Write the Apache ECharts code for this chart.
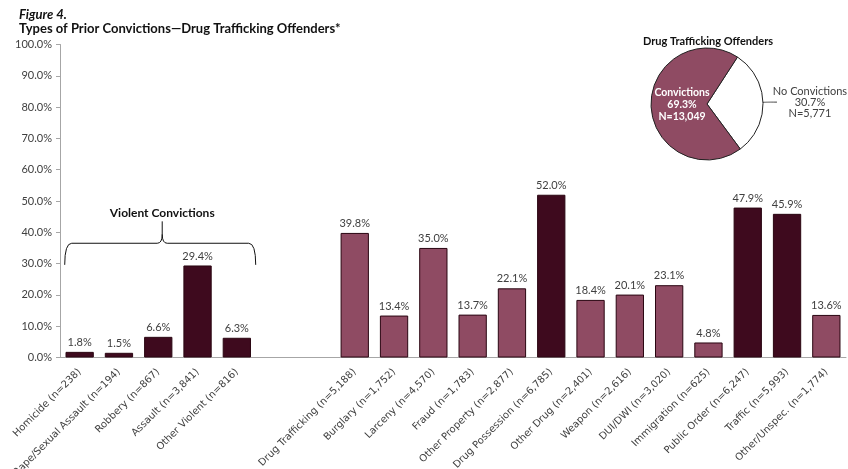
<!DOCTYPE html>
<html><head><meta charset="utf-8">
<script src="https://cdn.jsdelivr.net/npm/echarts@6/dist/echarts.min.js"></script>
<style>html,body{margin:0;padding:0;background:#fff}#c{width:848px;height:469px}</style>
</head><body><div id="c"></div>
<script>
const categories = ['Homicide (n=238)','Rape/Sexual Assault (n=194)','Robbery (n=867)','Assault (n=3,841)','Other Violent (n=816)','','',
 'Drug Trafficking (n=5,188)','Burglary (n=1,752)','Larceny (n=4,570)','Fraud (n=1,783)','Other Property (n=2,877)','Drug Possession (n=6,785)',
 'Other Drug (n=2,401)','Weapon (n=2,616)','DUI/DWI (n=3,020)','Immigration (n=625)','Public Order (n=6,247)','Traffic (n=5,993)','Other/Unspec. (n=1,774)'];
const values = [1.8,1.5,6.6,29.4,6.3,null,null,39.8,13.4,35.0,13.7,22.1,52.0,18.4,20.1,23.1,4.8,47.9,45.9,13.6];
const darkFlags = [1,1,1,1,1,0,0,0,0,0,0,0,1,0,0,0,0,1,1,0];
const yTicks = [0,10,20,30,40,50,60,70,80,90,100];
const pieNames = ['No Convictions','Convictions'];
const pieValues = [30.7,69.3];
const pieN = ['5,771','13,049'];

const DARK = '#3e0a1e', LIGHT = '#8f4b63';
const FONT = 'Lato';
const AXFONT = 'DejaVu Sans';
const chart = echarts.init(document.getElementById('c'));
const option = {
  animation:false,
  textStyle:{fontFamily:FONT},
  title:[
    {text:'Figure 4.', left:14, top:3, textStyle:{fontSize:13,fontWeight:'bold',fontStyle:'italic',color:'#111',fontFamily:FONT}},
    {text:'Types of Prior Convictions\u2014Drug Trafficking Offenders*', left:14, top:17, textStyle:{fontSize:13,fontWeight:'bold',color:'#111',fontFamily:FONT}},
    {text:'Drug Trafficking Offenders', left:703, top:31, textAlign:'center', textStyle:{fontSize:11,fontWeight:'bold',color:'#111',fontFamily:FONT}}
  ],
  grid:{left:60,right:2,top:44.5,bottom:111.5,containLabel:false,outerBoundsMode:'none'},
  xAxis:{type:'category',data:categories,
    axisLine:{lineStyle:{color:'#a6a6a6'}},axisTick:{show:false},
    axisLabel:{interval:0,rotate:45,fontSize:10,color:'#404040',margin:13,fontFamily:AXFONT}},
  yAxis:{type:'value',min:yTicks[0],max:yTicks[yTicks.length-1],interval:10,
    axisLine:{show:true,lineStyle:{color:'#a6a6a6'}},
    axisTick:{show:true,length:4,lineStyle:{color:'#a6a6a6'}},
    splitLine:{show:false},
    axisLabel:{fontSize:11,color:'#404040',margin:8,formatter:v=>v.toFixed(1)+'%',fontFamily:FONT}},
  series:[
    {type:'bar',barCategoryGap:'28%',
     data:values.map((v,i)=>({value:v,itemStyle:{color:darkFlags[i]?DARK:LIGHT}})),
     itemStyle:{borderColor:'#2a0612',borderWidth:1},
     label:{show:true,position:'top',distance:4,fontSize:11,color:'#404040',fontFamily:FONT,
       formatter:p=>p.value==null?'':p.value.toFixed(1)+'%'}},
    {type:'pie',center:[707,104],radius:56,startAngle:57,clockwise:true,
     emphasis:{disabled:true},
     data:pieNames.map((n,i)=>({name:n,value:pieValues[i],
       itemStyle:{color:i===0?'#ffffff':LIGHT,borderColor:'#222',borderWidth:1},
       label:i===0?{position:'outside',color:'#404040',fontSize:10,lineHeight:11,overflow:'none',
         formatter:p=>'{a|'+p.name+'}\n{a|'+p.value.toFixed(1)+'%}\n{a|N='+pieN[p.dataIndex]+'}',
         rich:{a:{width:86,align:'center',fontSize:11,lineHeight:11,color:'#404040',fontFamily:FONT}}}
         :{position:'inside',color:'#fff',fontWeight:'bold',fontSize:10,lineHeight:12,offset:[6,0],overflow:'none',
         formatter:p=>'{b|'+p.name+'}\n{b|'+p.value.toFixed(1)+'%}\n{b|N='+pieN[p.dataIndex]+'}',
         rich:{b:{width:70,align:'center',fontSize:10.5,lineHeight:12,fontWeight:'bold',color:'#fff',fontFamily:FONT}}},
       labelLine:{show:i===0,length:6,length2:8,smooth:true,lineStyle:{color:'#404040'}}
     }))}
  ]
};
chart.setOption(option);

// brace annotation over the violent categories
function px(ci,v){return chart.convertToPixel({xAxisIndex:0,yAxisIndex:0},[ci,v]);}
const band = px(1,0)[0]-px(0,0)[0];
const xl = px(0,0)[0]-band*0.38, xr = px(4,0)[0]+band*0.48;
const yb = px(0,29.6)[1], yt = px(0,36.5)[1], yp = px(0,43.5)[1];
const xm = (xl+xr)/2+2;
const st = {stroke:'#111',lineWidth:1,fill:null};
const r = 7;
chart.setOption({graphic:[
  {type:'bezierCurve',shape:{x1:xl,y1:yb,x2:xl+r,y2:yt,cpx1:xl,cpy1:yt},style:st},
  {type:'line',shape:{x1:xl+r,y1:yt,x2:xm-5,y2:yt},style:st},
  {type:'bezierCurve',shape:{x1:xm-5,y1:yt,x2:xm,y2:yt-9,cpx1:xm,cpy1:yt},style:st},
  {type:'line',shape:{x1:xm,y1:yt-9,x2:xm,y2:yp},style:st},
  {type:'bezierCurve',shape:{x1:xm+5,y1:yt,x2:xm,y2:yt-9,cpx1:xm,cpy1:yt},style:st},
  {type:'line',shape:{x1:xm+5,y1:yt,x2:xr-r,y2:yt},style:st},
  {type:'bezierCurve',shape:{x1:xr-r,y1:yt,x2:xr,y2:yb,cpx1:xr,cpy1:yt},style:st},
  {type:'text',x:xm,y:yp-8,style:{text:'Violent Convictions',fill:'#111',font:'bold 12px '+FONT,textAlign:'center',textVerticalAlign:'middle'}}
]});
</script></body></html>
